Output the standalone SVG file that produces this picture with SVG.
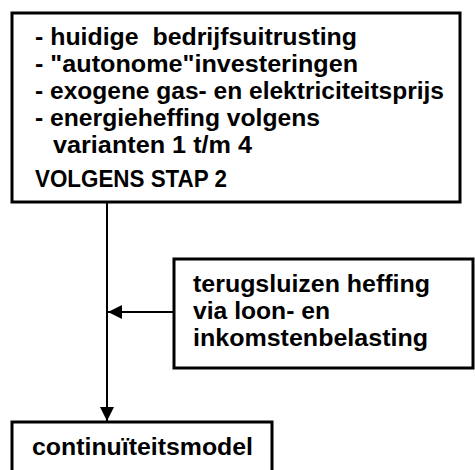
<svg xmlns="http://www.w3.org/2000/svg" width="475" height="470" viewBox="0 0 475 470">
  <style>
    .box { fill: #ffffff; stroke: #000000; stroke-width: 3; }
    .lbl { font-family: "Liberation Sans", Arial, sans-serif; font-weight: 700; font-size: 23px; fill: #000000; white-space: pre; }
    .conn { fill: none; stroke: #000000; stroke-width: 2; }
  </style>
  <defs>
    <marker id="arrow" viewBox="0 0 14 14" refX="14" refY="7" markerWidth="14" markerHeight="14" markerUnits="userSpaceOnUse" orient="auto">
      <path d="M0,0 L14,7 L0,14 Z" fill="#000000"/>
    </marker>
  </defs>
  <rect width="475" height="470" fill="#ffffff"/>

  <g id="connectors">
    <line class="conn" x1="107" y1="202" x2="107" y2="421" marker-end="url(#arrow)"/>
    <line class="conn" x1="174" y1="312" x2="108" y2="312" marker-end="url(#arrow)"/>
  </g>

  <g id="node-inputs">
    <rect class="box" x="12" y="13" width="448" height="189"/>
    <text class="lbl" x="35" y="45" textLength="322" lengthAdjust="spacingAndGlyphs">- huidige  bedrijfsuitrusting</text>
    <text class="lbl" x="35" y="72" textLength="323" lengthAdjust="spacingAndGlyphs">- "autonome"investeringen</text>
    <text class="lbl" x="35" y="99" textLength="409" lengthAdjust="spacingAndGlyphs">- exogene gas- en elektriciteitsprijs</text>
    <text class="lbl" x="35" y="126" textLength="285" lengthAdjust="spacingAndGlyphs">- energieheffing volgens</text>
    <text class="lbl" x="53" y="153" textLength="199" lengthAdjust="spacingAndGlyphs">varianten 1 t/m 4</text>
    <text class="lbl" x="35" y="187" textLength="192" lengthAdjust="spacingAndGlyphs">VOLGENS STAP 2</text>
  </g>

  <g id="node-terugsluizen">
    <rect class="box" x="174" y="259" width="299" height="109"/>
    <text class="lbl" x="193" y="292" textLength="237" lengthAdjust="spacingAndGlyphs">terugsluizen heffing</text>
    <text class="lbl" x="193" y="319" textLength="137" lengthAdjust="spacingAndGlyphs">via loon- en</text>
    <text class="lbl" x="193" y="346" textLength="235" lengthAdjust="spacingAndGlyphs">inkomstenbelasting</text>
  </g>

  <g id="node-continuiteitsmodel">
    <rect class="box" x="12" y="422" width="260" height="60"/>
    <text class="lbl" x="32" y="455" textLength="221" lengthAdjust="spacingAndGlyphs">continuïteitsmodel</text>
  </g>
</svg>
